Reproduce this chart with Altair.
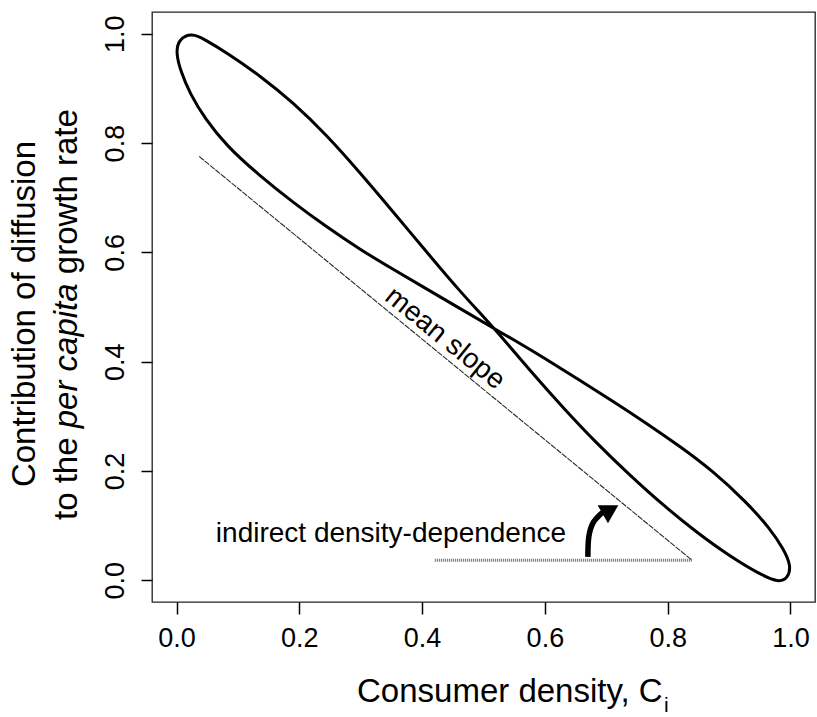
import altair as alt
import pandas as pd

FONT = "Liberation Sans"

# ---- data ----
# closed loop (traced in drawing order: steep branch down, round the right tip,
# shallow branch back up, round the left tip)
loop_x = [0.0249, 0.0461, 0.0814, 0.1357, 0.1899, 0.2443, 0.2985, 0.3528, 0.4072, 0.4614,
          0.5192, 0.5754, 0.6297, 0.6841, 0.7383, 0.7925, 0.8469, 0.9012, 0.9500, 0.9810,
          0.9956, 1.0013, 0.9891, 0.9663, 0.9284, 0.8740, 0.8197, 0.7655, 0.7111, 0.6569,
          0.6026, 0.5482, 0.5192, 0.4614, 0.4072, 0.3528, 0.2985, 0.2443, 0.1899, 0.1357,
          0.0814, 0.0461, 0.0217, 0.0062, -0.0011, 0.0037]
loop_y = [1.0015, 0.9896, 0.9658, 0.9237, 0.8744, 0.8149, 0.7463, 0.6741, 0.6009, 0.5286,
          0.4591, 0.3841, 0.3155, 0.2506, 0.1921, 0.1372, 0.0878, 0.0439, 0.0110, -0.0046,
          0.0037, 0.0256, 0.0567, 0.0951, 0.1427, 0.1994, 0.2451, 0.2872, 0.3274, 0.3658,
          0.4042, 0.4408, 0.4591, 0.4975, 0.5332, 0.5689, 0.6055, 0.6466, 0.6914, 0.7399,
          0.7948, 0.8451, 0.8908, 0.9329, 0.9658, 0.9905]

slope_x = [0.0368, 0.8380]
slope_y = [0.7756, 0.0380]

base_x = [0.4207, 0.8409]
base_y = [0.0366, 0.0366]

arrow_x = [0.6700, 0.6715, 0.6780, 0.6920, 0.7030]
arrow_y = [0.0426, 0.0790, 0.1040, 0.1220, 0.1300]
head_x = [0.7070]
head_y = [0.1290]

tick_vals = [0.0, 0.2, 0.4, 0.6, 0.8, 1.0]

# ---- chart ----
W, H = 663, 590
xs = alt.Scale(domain=[-0.04, 1.04], nice=False, zero=False)
ys = alt.Scale(domain=[-0.04, 1.04], nice=False, zero=False)

xaxis = alt.Axis(values=tick_vals, format=".1f", title=None, grid=False, domain=False,
                 tickSize=12, tickWidth=1.5, tickColor="black",
                 labelFontSize=27, labelFont=FONT, labelColor="black", labelPadding=11,
                 labelFlush=False, labelOverlap=False)
yaxis = alt.Axis(values=tick_vals, format=".1f", title=None, grid=False, domain=False,
                 tickSize=11, tickWidth=1.5, tickColor="black",
                 labelFontSize=27, labelFont=FONT, labelColor="black", labelPadding=12,
                 labelAngle=270, labelAlign="center", labelBaseline="bottom",
                 labelFlush=False, labelOverlap=False)

X = alt.X("x:Q", scale=xs, axis=xaxis)
Y = alt.Y("y:Q", scale=ys, axis=yaxis)

loop_df = pd.DataFrame({"x": loop_x, "y": loop_y, "i": list(range(len(loop_x)))})
loop = alt.Chart(loop_df).mark_line(
    color="black", strokeWidth=3, interpolate="basis-closed"
).encode(x=X, y=Y, order="i:Q")

slope = alt.Chart(pd.DataFrame({"x": slope_x, "y": slope_y})).mark_line(
    color="#2a2a2a", strokeWidth=1.1, strokeDash=[6, 1]
).encode(x=X, y=Y)

base = alt.Chart(pd.DataFrame({"x": base_x, "y": base_y})).mark_line(
    color="#6a6a6a", strokeWidth=3, strokeDash=[1, 1]
).encode(x=X, y=Y)

arrow = alt.Chart(pd.DataFrame({"x": arrow_x, "y": arrow_y, "i": list(range(len(arrow_x)))})).mark_line(
    color="black", strokeWidth=5.5, interpolate="cardinal"
).encode(x=X, y=Y, order="i:Q")

head = alt.Chart(pd.DataFrame({"x": head_x, "y": head_y})).mark_point(
    shape="triangle-right", filled=True, color="black", opacity=1, size=430, angle=330
).encode(x=X, y=Y)

mean_txt = alt.Chart(pd.DataFrame({"x": [0.437], "y": [0.442], "t": ["mean slope"]})).mark_text(
    font=FONT, fontSize=28, angle=39, align="center", baseline="middle", color="black"
).encode(x=X, y=Y, text="t:N")

ind_txt = alt.Chart(pd.DataFrame({"x": [0.064], "y": [0.070], "t": ["indirect density-dependence"]})).mark_text(
    font=FONT, fontSize=28, align="left", baseline="alphabetic", color="black"
).encode(x=X, y=Y, text="t:N")

one = pd.DataFrame({"a": [0]})


def label(text, px, py, size=33, angle=0, align="left", style="normal"):
    return alt.Chart(one).mark_text(
        text=text, font=FONT, fontSize=size, angle=angle, align=align,
        baseline="alphabetic", fontStyle=style, color="black"
    ).encode(x=alt.value(px), y=alt.value(py))


ytitle1 = label("Contribution of diffusion", -117, 302, angle=270, align="center")
ytitle2a = label("to the", -75, 508, angle=270)
ytitle2b = label("per capita", -75, 416.3, angle=270, style="italic")
ytitle2c = label("growth rate", -75, 262.2, angle=270)
xtitle = label("Consumer density, C", 205, 690)
xsub = label("i", 512, 700, size=21)

chart = alt.layer(
    base, slope, loop, arrow, head, mean_txt, ind_txt,
    ytitle1, ytitle2a, ytitle2b, ytitle2c, xtitle, xsub
).properties(
    width=W, height=H,
    autosize=alt.AutoSizeParams(type="none"),
    padding={"left": 152, "top": 12, "right": 2, "bottom": 115},
    background="white",
).configure_view(stroke="#222222", strokeWidth=1.3)

chart.save("out.html", embed_options={"renderer": "svg", "actions": False})
